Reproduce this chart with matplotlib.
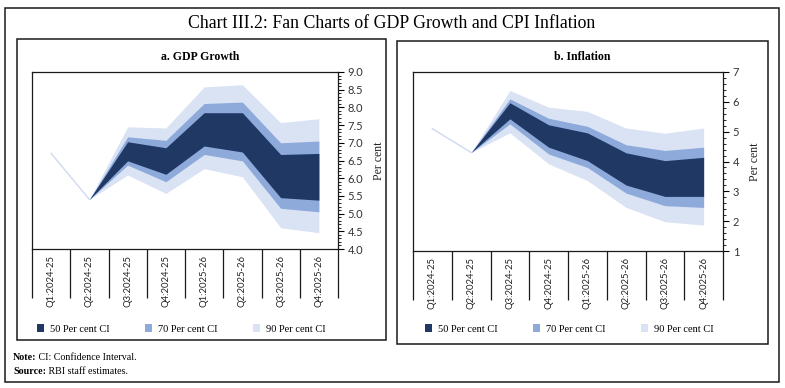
import matplotlib
matplotlib.use("Agg")
import matplotlib.pyplot as plt
from matplotlib.patches import Rectangle
from matplotlib.ticker import MultipleLocator, FormatStrFormatter

quarters = ["Q1:2024-25", "Q2:2024-25", "Q3:2024-25", "Q4:2024-25",
            "Q1:2025-26", "Q2:2025-26", "Q3:2025-26", "Q4:2025-26"]

# actual outturns (Q1, Q2 2024-25)
gdp_actual = [6.7, 5.4]
cpi_actual = [5.1, 4.3]

# fan bands from Q2:2024-25 onwards
gdp_90_hi = [5.4, 7.45, 7.42, 8.58, 8.64, 7.57, 7.68]
gdp_70_hi = [5.4, 7.17, 7.07, 8.11, 8.15, 7.00, 7.05]
gdp_50_hi = [5.4, 7.03, 6.86, 7.85, 7.85, 6.67, 6.70]
gdp_50_lo = [5.4, 6.49, 6.11, 6.91, 6.74, 5.45, 5.38]
gdp_70_lo = [5.4, 6.37, 5.90, 6.67, 6.49, 5.15, 5.05]
gdp_90_lo = [5.4, 6.09, 5.57, 6.27, 6.04, 4.60, 4.46]

cpi_90_hi = [4.3, 6.38, 5.82, 5.68, 5.12, 4.95, 5.12]
cpi_70_hi = [4.3, 6.10, 5.45, 5.18, 4.56, 4.37, 4.48]
cpi_50_hi = [4.3, 5.97, 5.23, 4.96, 4.29, 4.03, 4.14]
cpi_50_lo = [4.3, 5.43, 4.48, 4.03, 3.21, 2.83, 2.83]
cpi_70_lo = [4.3, 5.26, 4.25, 3.80, 2.94, 2.52, 2.46]
cpi_90_lo = [4.3, 4.96, 3.92, 3.36, 2.46, 1.98, 1.87]

c50 = "#1f3864"
c70 = "#8eaadb"
c90 = "#dae3f3"
c_act = "#cfdaee"

serif = "Liberation Serif"
sans = "Lato"

W, H = 785, 388
fig = plt.figure(figsize=(W / 100, H / 100), dpi=100)


def box(x0, y0, x1, y1, lw=1.1):
    fig.add_artist(Rectangle((x0 / W, 1 - y1 / H), (x1 - x0) / W, (y1 - y0) / H,
                             transform=fig.transFigure, fill=False,
                             ec="#1a1a1a", lw=lw))


box(5, 8, 779, 382)
box(17, 39, 386, 340)
box(397, 41, 768, 344)

fig.text(392 / W, 1 - 23 / H, "Chart III.2: Fan Charts of GDP Growth and CPI Inflation",
         ha="center", va="center", fontsize=12.8, family=serif)


def fan(rect, actual, bands, ylim, major, minor, fmt, title, title_x, legend_x):
    ax = fig.add_axes(rect)
    x = list(range(len(quarters)))
    xf = x[1:]
    hi90, hi70, hi50, lo50, lo70, lo90 = bands
    f90 = ax.fill_between(xf, lo90, hi90, color=c90, lw=0, label="90 Per cent CI")
    f70 = ax.fill_between(xf, lo70, hi70, color=c70, lw=0, label="70 Per cent CI")
    f50 = ax.fill_between(xf, lo50, hi50, color=c50, lw=0, label="50 Per cent CI")
    ax.plot(x[:2], actual, color=c_act, lw=1.0)

    ax.set_xlim(-0.5, len(quarters) - 0.5)
    ax.set_ylim(*ylim)

    # category separators hang below the axis, labels sit between them
    ax.set_xticks([i - 0.5 for i in range(len(quarters) + 1)])
    ax.set_xticklabels([])
    ax.set_xticks(x, minor=True)
    ax.set_xticklabels(quarters, minor=True, rotation=90, fontsize=6.8,
                       family=sans, color="#222")
    ax.tick_params(axis="x", which="major", length=35, width=0.9, color="#1a1a1a")
    ax.tick_params(axis="x", which="minor", length=0, pad=4)

    ax.yaxis.tick_right()
    ax.yaxis.set_label_position("right")
    ax.yaxis.set_major_locator(MultipleLocator(major))
    ax.yaxis.set_minor_locator(MultipleLocator(minor))
    ax.yaxis.set_major_formatter(FormatStrFormatter(fmt))
    ax.tick_params(axis="y", which="major", length=4, width=0.8, pad=3,
                   labelsize=8, labelcolor="#333")
    ax.tick_params(axis="y", which="minor", length=2.5, width=0.6)
    for lab in ax.get_yticklabels():
        lab.set_family(sans)
    ax.set_ylabel("Per cent", family=serif, fontsize=8.5, labelpad=7, color="#222")

    for sp in ax.spines.values():
        sp.set_linewidth(0.9)
        sp.set_color("#1a1a1a")

    fig.text(title_x / W, 1 - 57 / H, title, ha="center", va="center",
             fontsize=8.5, fontweight="bold", family=serif)

    ax.legend(handles=[f50, f70, f90], ncol=3, frameon=False,
              loc="center left", bbox_to_anchor=(legend_x / W, 1 - 329 / H),
              bbox_transform=fig.transFigure, borderpad=0, borderaxespad=0,
              handlelength=0.7, handleheight=0.7, handletextpad=0.55,
              columnspacing=3.4, prop={"family": serif, "size": 7.5})
    return ax


ax1 = fan([32 / W, 1 - 249 / H, 306 / W, 177 / H], gdp_actual,
          [gdp_90_hi, gdp_70_hi, gdp_50_hi, gdp_50_lo, gdp_70_lo, gdp_90_lo],
          (4, 9), 0.5, 0.1, "%.1f", "a. GDP Growth", 200, 37)
ax2 = fan([413 / W, 1 - 251 / H, 310 / W, 179 / H], cpi_actual,
          [cpi_90_hi, cpi_70_hi, cpi_50_hi, cpi_50_lo, cpi_70_lo, cpi_90_lo],
          (1, 7), 1, 0.2, "%d", "b. Inflation", 582, 425)

note = fig.text(13 / W, 1 - 357 / H, "Note:", fontsize=7.2, fontweight="bold",
                family=serif, va="center")
ax1.annotate(" CI: Confidence Interval.", xy=(1, 0.5), xycoords=note,
             va="center", ha="left", fontsize=7.2, family=serif,
             annotation_clip=False)
src = fig.text(13 / W, 1 - 372 / H, "Source:", fontsize=7.2, fontweight="bold",
               family=serif, va="center")
ax1.annotate(" RBI staff estimates.", xy=(1, 0.5), xycoords=src,
             va="center", ha="left", fontsize=7.2, family=serif,
             annotation_clip=False)

fig.savefig("out.png", dpi=100)
